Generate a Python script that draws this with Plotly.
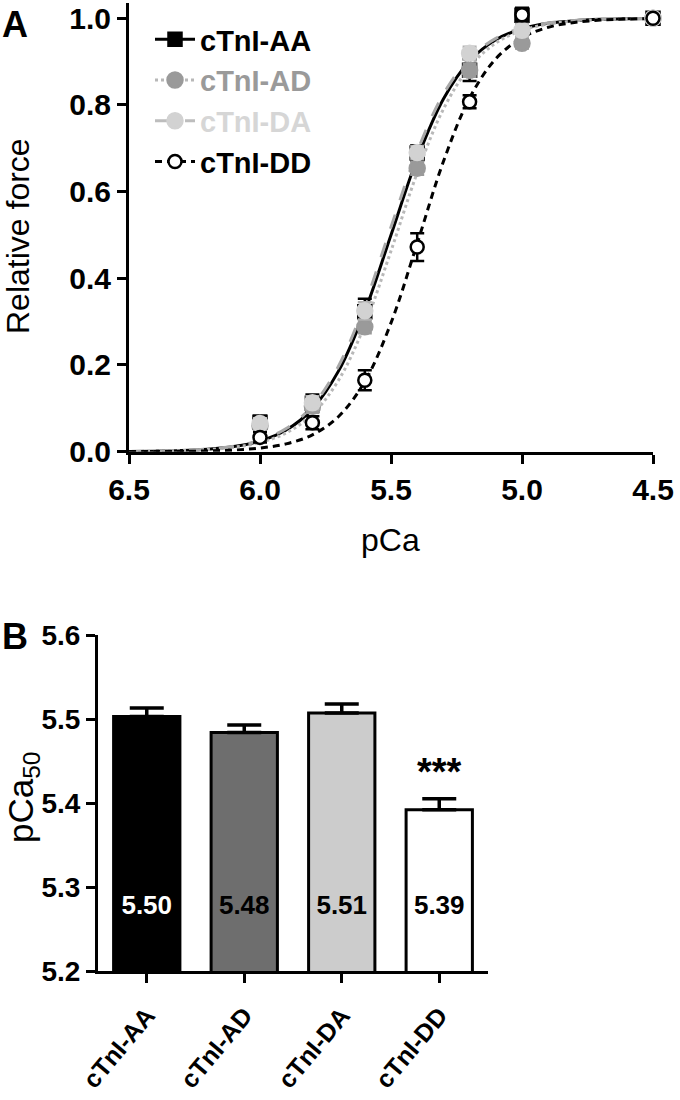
import plotly.graph_objects as go

# ---------------- Data: panel A (force-pCa) ----------------
pca = [6.0, 5.8, 5.6, 5.4, 5.2, 5.0, 4.5]
force_AA = [0.068, 0.112, 0.323, 0.689, 0.880, 1.007, 1.0]
force_AD = [0.060, 0.105, 0.288, 0.654, 0.880, 0.942, 1.0]
force_DA = [0.065, 0.113, 0.325, 0.690, 0.919, 0.972, 1.0]
force_DD = [0.033, 0.067, 0.165, 0.472, 0.807, 1.008, 1.0]
err_AA = [0.015, 0.020, 0.030, 0.018, 0.025, 0.017, 0.0]
err_AD = [0.012, 0.015, 0.015, 0.015, 0.015, 0.012, 0.0]
err_DA = [0.012, 0.015, 0.020, 0.015, 0.015, 0.015, 0.0]
err_DD = [0.012, 0.015, 0.023, 0.032, 0.015, 0.015, 0.0]

# fitted curves
curve_pca = [6.5, 6.4, 6.3, 6.2, 6.1, 6.0, 5.9, 5.8, 5.7, 5.6, 5.5, 5.4, 5.3,
             5.2, 5.1, 5.0, 4.9, 4.8, 4.7, 4.6, 4.5]
curve_AA = [0.0006, 0.0013, 0.0027, 0.0057, 0.0119, 0.0245, 0.0499, 0.0988, 0.1864,
            0.3237, 0.5000, 0.6763, 0.8136, 0.9012, 0.9501, 0.9755, 0.9881, 0.9943,
            0.9973, 0.9987, 0.9994]
curve_AD = [0.0005, 0.0011, 0.0024, 0.0049, 0.0103, 0.0212, 0.0433, 0.0864, 0.1651,
            0.2923, 0.4632, 0.6432, 0.7902, 0.8872, 0.9427, 0.9717, 0.9863, 0.9934,
            0.9968, 0.9985, 0.9993]
curve_DA = [0.0007, 0.0014, 0.0030, 0.0062, 0.0128, 0.0263, 0.0535, 0.1056, 0.1978,
            0.3400, 0.5184, 0.6922, 0.8246, 0.9075, 0.9535, 0.9772, 0.9890, 0.9947,
            0.9974, 0.9988, 0.9994]
curve_DD = [0.0002, 0.0004, 0.0008, 0.0018, 0.0038, 0.0084, 0.0181, 0.0388, 0.0812,
            0.1619, 0.2971, 0.4805, 0.6692, 0.8157, 0.9064, 0.9549, 0.9789, 0.9902,
            0.9955, 0.9979, 0.9991]

x_ticks_A = [6.5, 6.0, 5.5, 5.0, 4.5]
y_ticks_A = [0.0, 0.2, 0.4, 0.6, 0.8, 1.0]

# ---------------- Data: panel B (pCa50 bars) ----------------
groups = ["cTnI-AA", "cTnI-AD", "cTnI-DA", "cTnI-DD"]
pca50 = [5.503, 5.484, 5.507, 5.392]
pca50_err = [0.010, 0.009, 0.011, 0.013]
y_ticks_B = [5.2, 5.3, 5.4, 5.5, 5.6]
label_y = 5.276
star_y = 5.437

FONT = "Liberation Sans, Arial, sans-serif"
W, H = 680, 1100

series = [
    # name, points, err, curve, symbol, fill, marker line, size, curve color, dash, err color, legend text color
    ("cTnI-AA", force_AA, err_AA, curve_AA, "square", "black", "black", 13, "black", "solid", "black", "black"),
    ("cTnI-AD", force_AD, err_AD, curve_AD, "circle", "#9a9a9a", "#9a9a9a", 15, "#b8b8b8", "dot", "#9a9a9a", "#9a9a9a"),
    ("cTnI-DA", force_DA, err_DA, curve_DA, "circle", "#d2d2d2", "#d2d2d2", 15, "#a8a8a8", "longdash", "#b0b0b0", "#d6d6d6"),
    ("cTnI-DD", force_DD, err_DD, curve_DD, "circle", "white", "black", 13, "black", "7px,5px", "black", "black"),
]

fig = go.Figure()

for name, pts, err, cur, sym, fill, mline, msz, ccol, cdash, ecol, tcol in series:
    fig.add_trace(go.Scatter(
        x=curve_pca, y=cur, mode="lines", line=dict(color=ccol, width=3, dash=cdash, shape="spline"),
        showlegend=False, xaxis="x", yaxis="y", cliponaxis=False, hoverinfo="skip"))

for name, pts, err, cur, sym, fill, mline, msz, ccol, cdash, ecol, tcol in series:
    fig.add_trace(go.Scatter(
        x=pca, y=pts, mode="markers",
        marker=dict(symbol=sym, color=fill, size=msz, line=dict(color=mline, width=2.5)),
        error_y=dict(type="data", array=err, color=ecol, thickness=2.5, width=7),
        showlegend=False, xaxis="x", yaxis="y", cliponaxis=False))

for name, pts, err, cur, sym, fill, mline, msz, ccol, cdash, ecol, tcol in series:
    fig.add_trace(go.Scatter(
        x=[None], y=[None], mode="lines+markers",
        name="<span style='color:%s'>%s</span>" % (tcol, name),
        line=dict(color=ccol if name != "cTnI-DA" else "#bdbdbd", width=3, dash=cdash),
        marker=dict(symbol=sym, color=fill, size=msz, line=dict(color=mline, width=2.5)),
        xaxis="x", yaxis="y"))

fig.add_trace(go.Bar(
    x=groups, y=pca50, width=0.68,
    marker=dict(color=["black", "#6e6e6e", "#cccccc", "white"], line=dict(color="black", width=3)),
    error_y=dict(type="data", array=pca50_err, arrayminus=[0] * 4, symmetric=False,
                 color="black", thickness=3.5, width=17),
    showlegend=False, xaxis="x2", yaxis="y2"))

fig.add_trace(go.Scatter(
    x=groups, y=[label_y] * 4, mode="text",
    text=["%.2f" % v for v in pca50],
    textfont=dict(family=FONT, size=26, weight="bold",
                  color=["white", "black", "black", "black"]),
    showlegend=False, xaxis="x2", yaxis="y2", hoverinfo="skip"))

axis_common = dict(showline=True, linecolor="black", linewidth=3, ticks="outside",
                   ticklen=9, tickwidth=3, tickcolor="black", showgrid=False, zeroline=False,
                   mirror=False, automargin=False)

def ann(text, px, py, size, angle=0):
    return dict(text=text, x=px / W, y=1 - py / H, xref="paper", yref="paper",
                xanchor="center", yanchor="middle", textangle=angle,
                showarrow=False, font=dict(size=size))

fig.update_layout(
    width=W, height=H, paper_bgcolor="white", plot_bgcolor="white",
    margin=dict(l=0, r=0, t=0, b=0),
    font=dict(family=FONT, color="black"),
    xaxis=dict(domain=[129 / W, 653 / W], range=[6.5, 4.5], tickvals=x_ticks_A,
               tickformat=".1f", anchor="y", tickfont=dict(size=30, weight="bold"), **axis_common),
    yaxis=dict(domain=[(H - 451.7) / H, (H - 3) / H], range=[0, 1.035], tickvals=y_ticks_A,
               tickformat=".1f", anchor="x", tickfont=dict(size=30, weight="bold"), **axis_common),
    xaxis2=dict(domain=[98 / W, 488 / W], range=[-0.5, 3.5], anchor="y2", tickangle=-50,
                ticklabelstandoff=8,
                tickfont=dict(size=25, weight="bold"), **axis_common),
    yaxis2=dict(domain=[(H - 971) / H, (H - 635) / H], range=[5.2, 5.6], tickvals=y_ticks_B,
                tickformat=".1f", anchor="x2", tickfont=dict(size=28, weight="bold"), **axis_common),
    legend=dict(x=150 / W, y=1 - 14 / H, xanchor="left", yanchor="top",
                font=dict(size=29, weight="bold"), bgcolor="rgba(0,0,0,0)",
                tracegroupgap=0, itemwidth=40),
    annotations=[
        dict(text="<b>A</b>", x=0, y=1 - 2 / H, xref="paper", yref="paper",
             xanchor="left", yanchor="top", showarrow=False, font=dict(size=36)),
        dict(text="<b>B</b>", x=0, y=1 - 614 / H, xref="paper", yref="paper",
             xanchor="left", yanchor="top", showarrow=False, font=dict(size=36)),
        ann("Relative force", 18, 236, 32, -90),
        ann("pCa", 391, 540, 32),
        ann("pCa<sub>50</sub>", 23, 798, 35, -90),
        dict(text="<b>***</b>", x=groups[3], y=star_y, xref="x2", yref="y2",
             xanchor="center", yanchor="middle", showarrow=False, font=dict(size=38)),
    ],
)

fig.write_html("out.html", post_script="document.body.style.margin='0';",
               config={"displayModeBar": False})
